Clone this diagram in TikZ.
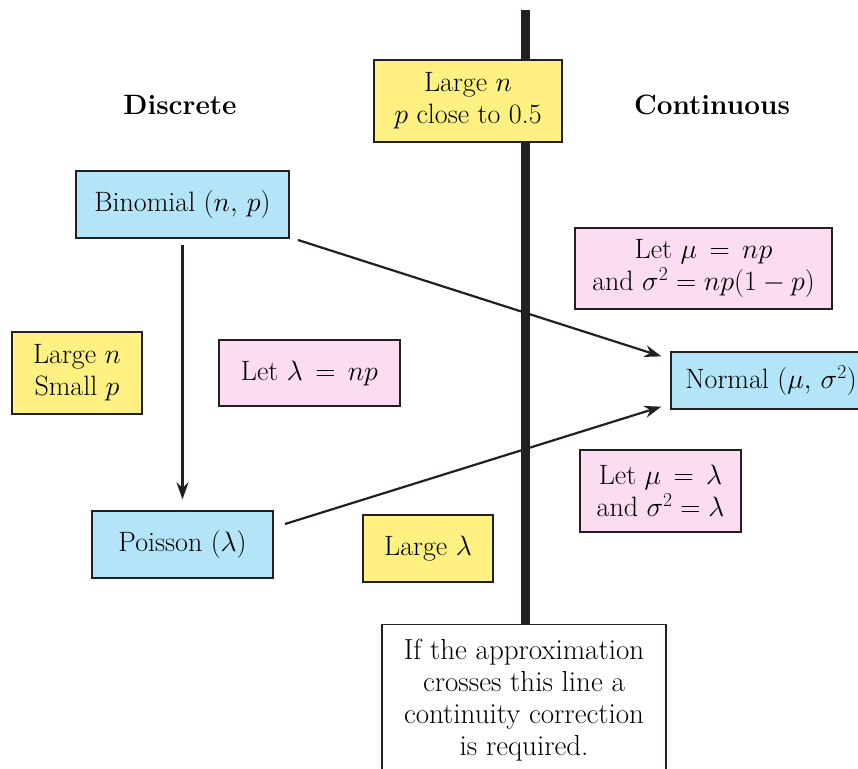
\RequirePackage{fix-cm}
\documentclass[tikz,border=0pt]{standalone}
\usetikzlibrary{arrows.meta}
\definecolor{bl}{RGB}{180,228,248}
\definecolor{pk}{RGB}{252,220,240}
\definecolor{yl}{RGB}{255,240,130}
\definecolor{ln}{RGB}{35,31,32}
\begin{document}
\begin{tikzpicture}[x=1pt,y=-1pt,
  box/.style={draw=ln,line width=1.3pt,align=center,inner sep=0pt,font=\fontsize{28}{32}\selectfont},
  dist/.style={box,fill=bl},
  cond/.style={box,fill=pk},
  hint/.style={box,fill=yl},
  arr/.style={draw=ln,line width=2.2pt,-{Stealth[length=17pt,width=12pt]}},
  head/.style={font=\fontsize{28}{32}\selectfont\bfseries}]
\useasboundingbox (0,0) rectangle (858,768);
\coordinate (ltop) at (525,10);
\coordinate (lbot) at (525,625);
\draw[ln,line width=9pt] (ltop) -- (lbot);
\node[head] (disc) at (180,105) {Discrete};
\node[head] (cont) at (712,105) {Continuous};
\node[hint,minimum width=188pt,minimum height=82pt] (big) at (468,101) {Large $n$\\$p$ close to 0.5};
\node[dist,minimum width=213pt,minimum height=67pt] (bin) at (182.5,204.5) {Binomial $(n,\,p)$};
\node[cond,minimum width=257pt,minimum height=81pt] (c1) at (703.5,268.5) {Let $\mu\,=\,np$\\and $\sigma^2=np(1-p)$};
\node[dist,minimum width=200pt,minimum height=57pt] (nor) at (771,380.5) {Normal $(\mu,\,\sigma^2)$};
\node[hint,minimum width=130pt,minimum height=82pt] (lns) at (77,373) {Large $n$\\Small $p$};
\node[cond,minimum width=181pt,minimum height=66pt] (c2) at (309.5,373) {Let $\lambda\,=\,np$};
\node[dist,minimum width=181pt,minimum height=67pt] (poi) at (182.5,544.5) {Poisson $(\lambda)$};
\node[hint,minimum width=130pt,minimum height=67pt] (ll) at (428,548.5) {Large $\lambda$};
\node[cond,minimum width=161pt,minimum height=82pt] (c3) at (660.5,491) {Let $\mu\,=\,\lambda$\\and $\sigma^2=\lambda$};
\node[box,fill=white,minimum width=284pt,minimum height=170pt,anchor=north] (note) at (524,624) {};
\node[font=\fontsize{29}{32}\selectfont,align=center,anchor=north] (notetxt) at (524,636) {If the approximation\\crosses this line a\\continuity correction\\is required.};
\coordinate (b0) at ([yshift=-6pt]bin.south);
\coordinate (b1) at ([yshift=11pt]poi.north);
\draw[arr] (b0) -- (b1);
\coordinate (bs) at (298,240);
\coordinate (ps) at (285,524);
\draw[arr] (bs) -- ([xshift=-9pt,yshift=-5pt]nor.north west);
\draw[arr] (ps) -- ([xshift=-9pt,yshift=3pt]nor.south west);
\end{tikzpicture}
\end{document}
